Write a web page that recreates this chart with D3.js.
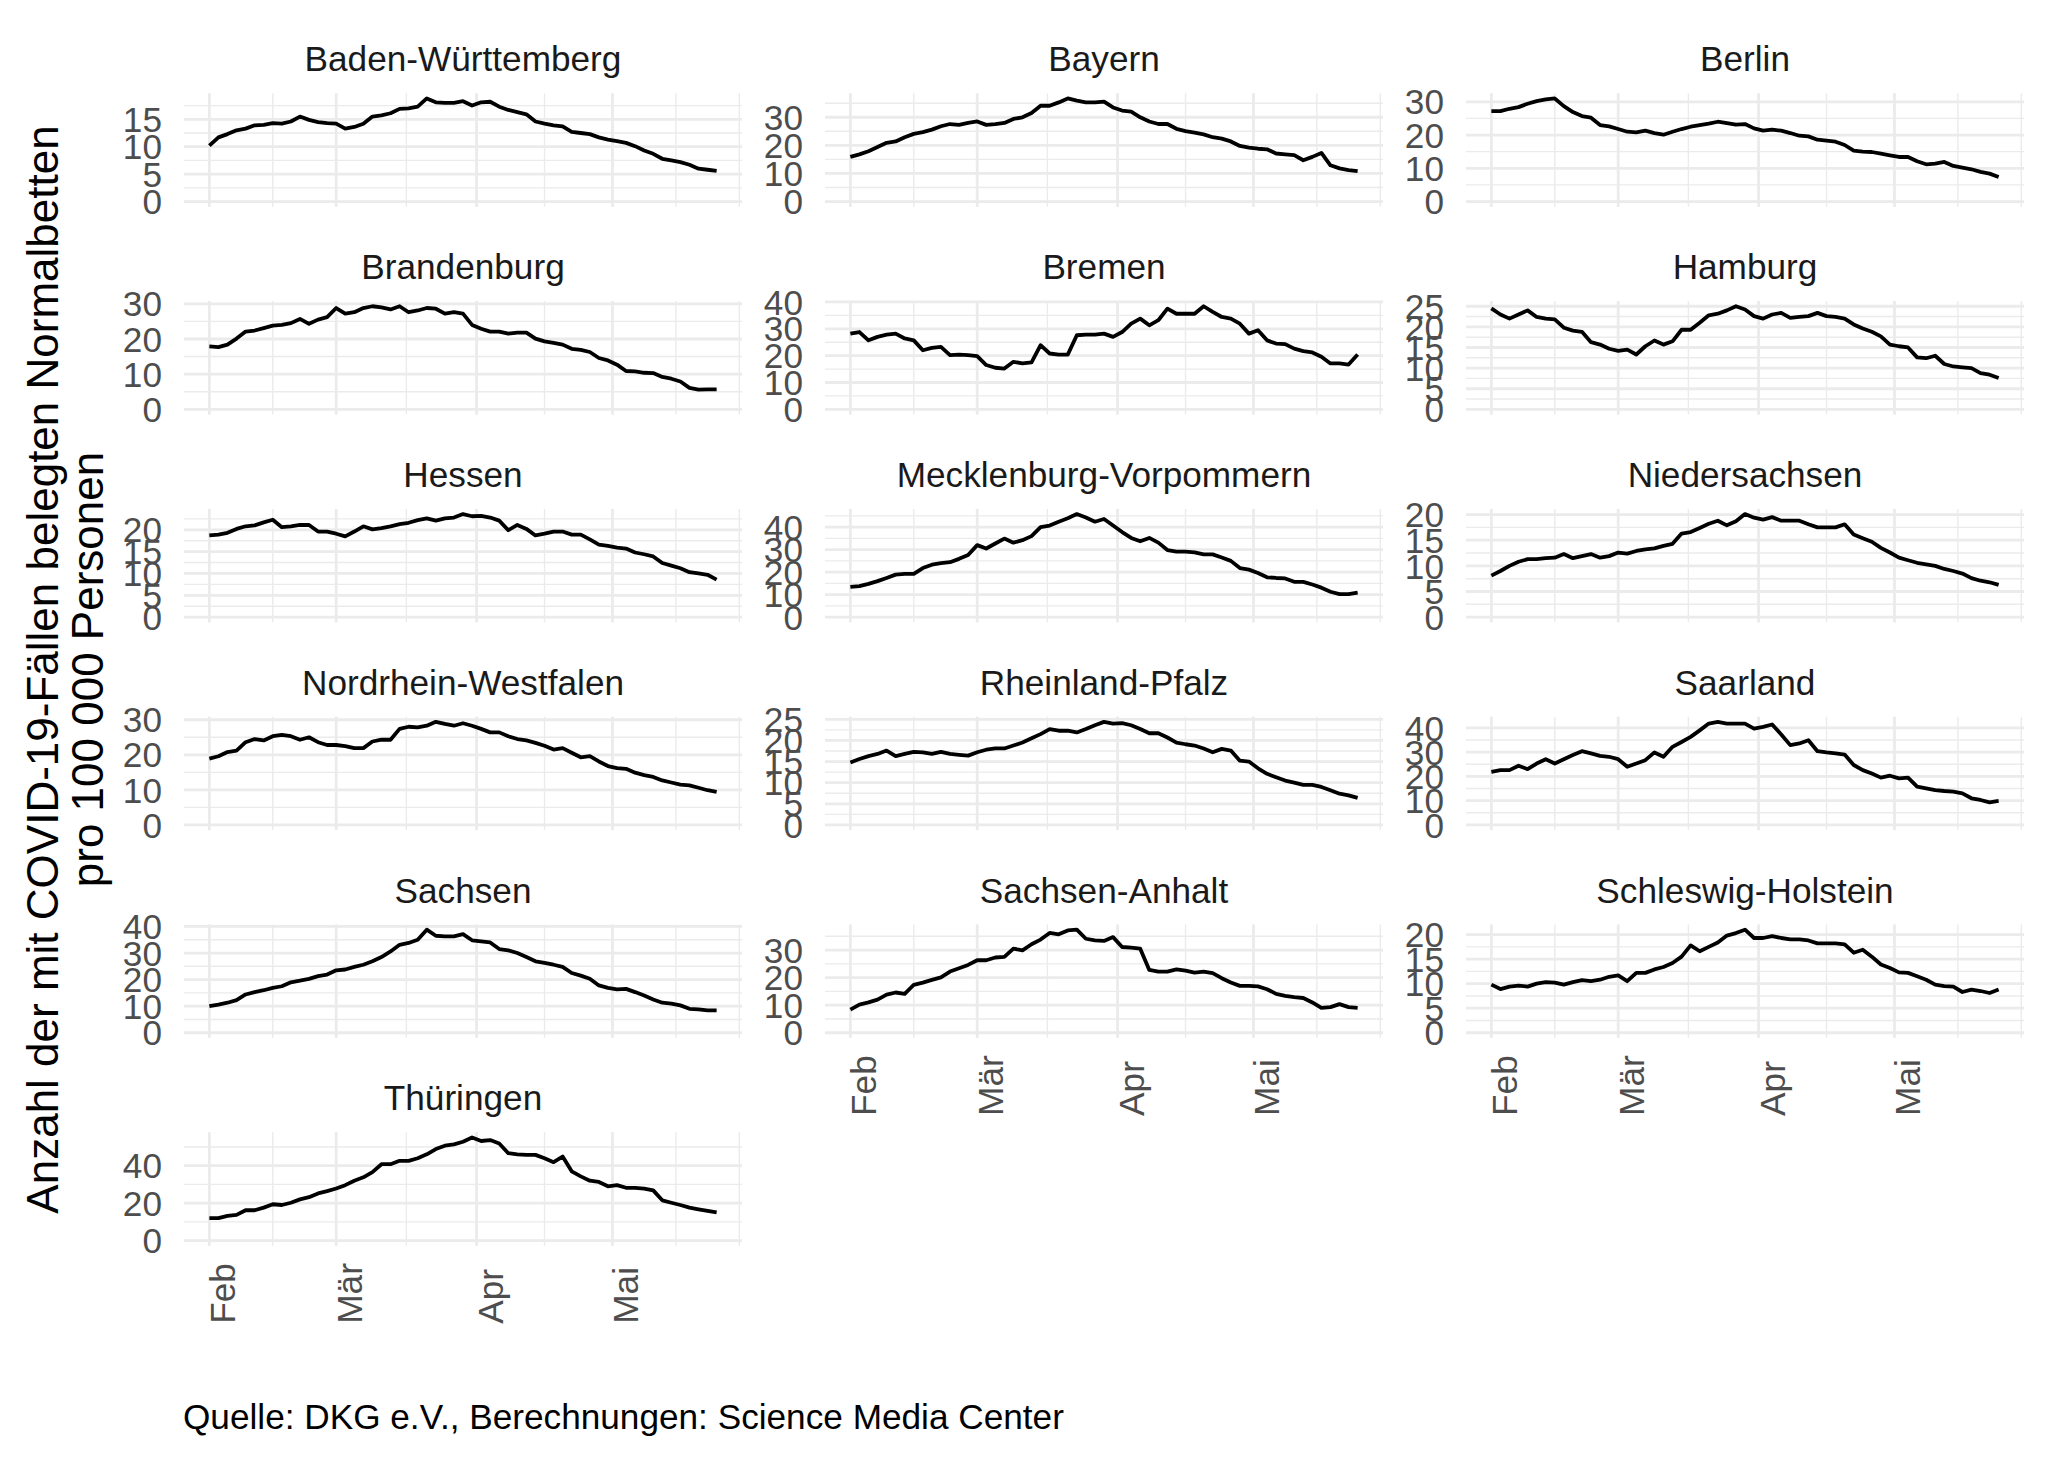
<!DOCTYPE html>
<html>
<head>
<meta charset="utf-8">
<script src="https://cdn.jsdelivr.net/npm/d3@7"></script>
<style>
  body { margin: 0; background: #fff; }
  text { font-family: "Liberation Sans", Arial, Helvetica, sans-serif; }
</style>
</head>
<body>
<div id="chart"></div>
<script>
// days after 1 Feb 2022, every second day up to 24 May
const dayOffsets = [0,2,4,6,8,10,12,14,16,18,20,22,24,26,28,30,32,34,36,38,40,42,44,46,48,50,52,54,56,
  58,60,62,64,66,68,70,72,74,76,78,80,82,84,86,88,90,92,94,96,98,100,102,104,106,108,110,112];

const monthStarts = ["2022-02-01", "2022-03-01", "2022-04-01", "2022-05-01"];
const monthLabels = ["Feb", "Mär", "Apr", "Mai"];

const stateNames = ["Baden-Württemberg", "Bayern", "Berlin", "Brandenburg", "Bremen", "Hamburg",
  "Hessen", "Mecklenburg-Vorpommern", "Niedersachsen", "Nordrhein-Westfalen", "Rheinland-Pfalz",
  "Saarland", "Sachsen", "Sachsen-Anhalt", "Schleswig-Holstein", "Thüringen"];

// beds per 100 000 people
const bw = [10.2,11.7,12.3,13.0,13.3,13.9,14.0,14.3,14.2,14.6,15.5,14.9,14.5,14.3,14.2,13.3,13.6,14.2,15.5,15.7,16.1,16.9,17.0,17.3,18.8,18.1,18.0,18.0,18.3,17.5,18.1,18.2,17.3,16.7,16.3,15.9,14.6,14.2,13.9,13.7,12.7,12.5,12.3,11.7,11.3,11.0,10.7,10.1,9.3,8.7,7.8,7.5,7.2,6.7,6.0,5.8,5.6];
const by = [15.9,16.8,17.9,19.4,20.9,21.4,22.9,24.1,24.7,25.6,26.8,27.6,27.3,28.0,28.5,27.3,27.6,28.0,29.4,30.0,31.5,34.1,34.1,35.3,36.7,35.9,35.3,35.3,35.6,33.5,32.4,32.0,30.0,28.5,27.6,27.6,25.9,25.1,24.5,23.9,22.9,22.4,21.4,19.8,19.2,18.8,18.6,17.1,16.8,16.5,14.7,15.9,17.3,12.9,11.8,11.2,10.8];
const be = [27.2,27.2,27.9,28.4,29.4,30.2,30.7,31.0,28.7,26.9,25.7,25.2,23.0,22.6,21.8,21.0,20.8,21.3,20.6,20.1,21.0,21.8,22.5,23.0,23.4,24.0,23.6,23.1,23.3,22.0,21.3,21.6,21.3,20.6,19.8,19.6,18.6,18.3,18.0,17.0,15.3,15.0,14.9,14.4,13.9,13.4,13.4,12.1,11.2,11.4,11.9,10.7,10.2,9.7,8.9,8.4,7.4];
const bb = [17.9,17.7,18.4,20.1,22.1,22.4,23.1,23.8,24.0,24.5,25.7,24.3,25.5,26.2,28.8,27.2,27.6,28.8,29.3,29.0,28.4,29.3,27.6,28.1,28.8,28.6,27.2,27.6,27.2,24.0,22.9,22.1,22.1,21.5,21.8,21.8,20.1,19.3,18.9,18.4,17.2,16.9,16.3,14.6,13.9,12.7,10.9,10.8,10.4,10.3,9.2,8.7,7.9,6.1,5.6,5.7,5.7];
const hb = [28.2,28.8,25.7,27.0,27.8,28.2,26.4,25.7,22.0,22.9,23.3,20.2,20.4,20.2,19.8,16.5,15.5,15.2,17.7,17.1,17.5,23.9,20.8,20.4,20.4,27.6,27.8,27.8,28.2,27.0,28.8,31.9,33.8,31.3,33.2,37.5,35.6,35.6,35.6,38.4,36.3,34.4,33.8,31.9,28.2,29.5,25.7,24.5,24.3,22.6,21.7,21.2,19.6,17.1,17.1,16.7,20.4];
const hh = [24.5,23.0,22.0,23.0,24.0,22.4,22.0,21.8,19.8,19.1,18.8,16.3,15.7,14.7,14.2,14.5,13.3,15.3,16.7,15.7,16.5,19.3,19.3,21.0,22.8,23.2,24.0,25.0,24.2,22.6,22.0,23.0,23.4,22.2,22.4,22.6,23.4,22.6,22.4,22.0,20.6,19.6,18.8,17.7,15.7,15.3,15.0,12.6,12.4,13.0,11.0,10.4,10.2,10.0,8.8,8.4,7.6];
const he = [18.7,18.9,19.3,20.2,20.8,21.0,21.7,22.3,20.6,20.8,21.1,21.1,19.6,19.6,19.1,18.5,19.6,20.8,20.1,20.4,20.8,21.3,21.6,22.2,22.6,22.1,22.6,22.8,23.6,23.1,23.2,22.8,22.1,19.9,21.1,20.2,18.7,19.1,19.6,19.6,18.9,18.9,17.8,16.6,16.3,15.9,15.7,14.8,14.4,13.9,12.4,11.8,11.2,10.3,10.0,9.7,8.6];
const mv = [13.4,13.8,14.8,16.0,17.4,18.9,19.2,19.2,21.8,23.3,24.0,24.4,25.9,27.6,32.0,30.5,32.7,34.9,33.1,34.2,36.0,40.0,40.7,42.4,43.9,45.8,44.3,42.4,43.6,40.7,37.8,35.2,33.7,35.2,33.1,29.8,29.1,29.1,28.8,27.9,27.9,26.5,25.0,21.8,21.1,19.6,17.7,17.4,17.2,15.7,15.7,14.5,13.1,11.3,10.2,10.2,10.9];
const ni = [8.1,9.0,10.0,10.8,11.3,11.3,11.5,11.6,12.3,11.5,11.9,12.3,11.6,11.9,12.6,12.4,12.9,13.2,13.4,13.9,14.3,16.3,16.6,17.4,18.2,18.8,17.9,18.7,20.1,19.4,19.0,19.5,18.8,18.8,18.8,18.1,17.5,17.5,17.5,18.1,16.1,15.4,14.7,13.5,12.6,11.6,11.1,10.6,10.3,10.0,9.4,9.0,8.5,7.6,7.1,6.8,6.3];
const nw = [18.9,19.6,20.8,21.2,23.6,24.5,24.1,25.3,25.7,25.3,24.3,25.0,23.6,22.8,22.8,22.5,21.9,21.9,23.8,24.3,24.3,27.4,28.0,27.8,28.3,29.4,28.8,28.3,29.0,28.3,27.4,26.4,26.4,25.3,24.5,24.1,23.4,22.6,21.5,21.9,20.6,19.3,19.6,18.1,16.8,16.2,16.0,14.9,14.2,13.7,12.7,12.1,11.5,11.3,10.6,9.9,9.4];
const rp = [14.8,15.6,16.3,16.8,17.6,16.3,16.8,17.3,17.2,16.8,17.3,16.8,16.6,16.4,17.2,17.8,18.1,18.1,18.8,19.5,20.5,21.5,22.7,22.3,22.3,21.9,22.7,23.6,24.4,24.0,24.1,23.6,22.7,21.7,21.7,20.7,19.5,19.1,18.8,18.1,17.2,18.0,17.6,15.2,15.0,13.4,12.1,11.3,10.5,10.0,9.5,9.5,9.0,8.2,7.4,7.0,6.4];
const sl = [21.9,22.6,22.6,24.4,23.0,25.3,27.1,25.3,27.1,28.8,30.4,29.5,28.5,28.1,27.1,24.0,25.3,26.7,29.9,28.1,32.2,34.2,36.3,39.0,41.8,42.5,41.8,41.8,41.8,39.7,40.4,41.4,37.3,32.9,33.6,34.9,30.4,29.9,29.5,29.0,24.7,22.6,21.2,19.5,20.3,19.2,19.5,15.8,15.1,14.4,14.0,13.7,13.0,11.0,10.3,9.3,9.9];
const sn = [10.0,10.6,11.3,12.3,14.4,15.3,16.0,16.9,17.5,19.0,19.6,20.3,21.3,21.9,23.5,23.8,24.8,25.6,26.9,28.5,30.6,33.1,33.8,35.0,38.8,36.5,36.3,36.3,37.1,34.8,34.4,34.0,31.5,31.0,30.0,28.5,26.9,26.3,25.6,24.8,22.5,21.5,20.3,17.8,16.9,16.3,16.5,15.3,14.0,12.5,11.3,11.0,10.3,9.0,8.8,8.4,8.4];
const st = [8.4,10.2,11.0,12.0,13.8,14.6,14.1,17.4,18.2,19.2,20.1,22.2,23.4,24.6,26.3,26.3,27.3,27.5,30.5,29.9,32.1,33.8,36.2,35.7,37.1,37.4,34.1,33.5,33.3,34.7,31.1,30.9,30.5,22.8,22.2,22.2,23.0,22.5,21.8,22.2,21.6,19.8,18.2,17.0,17.0,16.8,15.8,14.1,13.4,12.9,12.6,11.0,9.0,9.3,10.4,9.3,9.0];
const sh = [9.8,8.9,9.4,9.6,9.4,10.0,10.3,10.2,9.8,10.3,10.7,10.5,10.8,11.4,11.7,10.5,12.2,12.2,12.9,13.4,14.2,15.5,17.8,16.6,17.5,18.4,19.8,20.3,21.0,19.3,19.3,19.7,19.3,19.0,19.0,18.8,18.2,18.2,18.2,18.0,16.3,16.9,15.5,13.9,13.2,12.3,12.2,11.5,10.8,9.8,9.5,9.4,8.3,8.8,8.5,8.1,8.8];
const th = [12.0,12.0,13.2,13.7,16.2,16.2,17.6,19.4,19.0,20.2,22.0,23.2,25.2,26.4,27.8,29.6,32.0,33.8,36.6,40.8,40.8,42.6,42.6,44.0,46.1,48.9,50.7,51.4,52.8,55.1,53.2,53.7,51.9,46.7,46.1,45.8,45.8,44.0,41.9,44.9,37.0,34.3,32.0,31.3,29.0,29.6,28.2,28.2,27.8,26.8,21.5,20.2,19.0,17.6,16.7,15.8,15.0];

// y axis tick labels of each panel
const yBreaks5to15 = [0, 5, 10, 15];
const yBreaks5to20 = [0, 5, 10, 15, 20];
const yBreaks5to25 = [0, 5, 10, 15, 20, 25];
const yBreaks10to30 = [0, 10, 20, 30];
const yBreaks10to40 = [0, 10, 20, 30, 40];
const yBreaks20to40 = [0, 20, 40];

const seriesList = [bw, by, be, bb, hb, hh, he, mv, ni, nw, rp, sl, sn, st, sh, th];
const breakList = [yBreaks5to15, yBreaks10to30, yBreaks10to30, yBreaks10to30, yBreaks10to40, yBreaks5to25,
  yBreaks5to20, yBreaks10to40, yBreaks5to20, yBreaks10to30, yBreaks5to25, yBreaks10to40,
  yBreaks10to40, yBreaks10to30, yBreaks5to20, yBreaks20to40];

const titleY = ["Anzahl der mit COVID-19-Fällen belegten Normalbetten", "pro 100 000 Personen"];
const captionText = "Quelle: DKG e.V., Berechnungen: Science Media Center";

// ---- layout
const W = 2048, H = 1462;
const colLeft = [184, 825, 1466];
const panelW = 558, panelH = 113.4;
const rowTop0 = 93.3, rowPitch = 207.8;
const gridCol = "#EBEBEB";
const fs = 35.2;

const startDate = new Date(Date.UTC(2022, 1, 1));
const dates = dayOffsets.map(d => d3.utcDay.offset(startDate, d));
const monthDates = monthStarts.map(s => d3.utcParse("%Y-%m-%d")(s));

// ggplot-like minor breaks: majors extended by one step, plus midpoints
function minorBreaks(b, lo, hi) {
    let step = b[1] - b[0];
    let ext = b.slice();
    if (lo < b[0]) ext.unshift(b[0] - step);
    if (hi > b[b.length - 1]) ext.push(b[b.length - 1] + step);
    let out = ext.slice();
    for (let k = 1; k < ext.length; k++) out.push((ext[k - 1] + ext[k]) / 2);
    return out.filter(v => v >= lo && v <= hi);
}

const svg = d3.select("#chart").append("svg")
    .attr("width", W).attr("height", H)
    .style("background", "#fff");

const panels = stateNames.map((name, i) => ({
    name: name,
    values: seriesList[i].map((v, k) => ({ date: dates[k], v: v })),
    breaks: breakList[i]
}));

panels.forEach((p, i) => {
    let col = i % 3, row = Math.floor(i / 3);
    let left = colLeft[col], top = rowTop0 + row * rowPitch;
    let bottom = top + panelH;

    let t0 = dates[0].getTime(), t1 = dates[dates.length - 1].getTime();
    let tPad = (t1 - t0) * 0.05;
    let x = d3.scaleUtc().domain([new Date(t0 - tPad), new Date(t1 + tPad)]).range([left, left + panelW]);

    let maxV = d3.max(p.values, d => d.v);
    let yPad = maxV * 0.05;
    let y = d3.scaleLinear().domain([-yPad, maxV + yPad]).range([bottom, top]);

    let g = svg.append("g").attr("class", "panel");

    // vertical grid
    let xMaj = monthDates.map(d => d.getTime());
    let xMin = minorBreaks(xMaj, t0 - tPad, t1 + tPad);
    g.selectAll(".vminor").data(xMin).join("line")
        .attr("x1", d => x(new Date(d))).attr("x2", d => x(new Date(d)))
        .attr("y1", top).attr("y2", bottom)
        .attr("stroke", gridCol).attr("stroke-width", 1.4);
    // horizontal grid
    let yMin = minorBreaks(p.breaks, -yPad, maxV + yPad);
    g.selectAll(".hminor").data(yMin).join("line")
        .attr("x1", left).attr("x2", left + panelW)
        .attr("y1", d => y(d)).attr("y2", d => y(d))
        .attr("stroke", gridCol).attr("stroke-width", 1.4);
    g.selectAll(".vmajor").data(monthDates).join("line")
        .attr("x1", d => x(d)).attr("x2", d => x(d))
        .attr("y1", top).attr("y2", bottom)
        .attr("stroke", gridCol).attr("stroke-width", 2.8);
    g.selectAll(".hmajor").data(p.breaks).join("line")
        .attr("x1", left).attr("x2", left + panelW)
        .attr("y1", d => y(d)).attr("y2", d => y(d))
        .attr("stroke", gridCol).attr("stroke-width", 2.8);

    let lineGen = d3.line().x(d => x(d.date)).y(d => y(d.v));
    g.append("path").datum(p.values)
        .attr("d", lineGen)
        .attr("fill", "none")
        .attr("stroke", "#000")
        .attr("stroke-width", 3.8)
        .attr("stroke-linejoin", "round");

    // strip title
    g.append("text")
        .attr("x", left + panelW / 2).attr("y", top - 22)
        .attr("text-anchor", "middle")
        .attr("font-size", fs).attr("fill", "#1A1A1A")
        .text(p.name);

    // y tick labels
    g.selectAll(".ylab").data(p.breaks).join("text")
        .attr("x", left - 22).attr("y", d => y(d) + fs * 0.36)
        .attr("text-anchor", "end")
        .attr("font-size", fs).attr("fill", "#4D4D4D")
        .text(d => d);

    // x tick labels only on the lowest panel of each column
    if (i >= stateNames.length - 3) {
        g.selectAll(".xlab").data(monthDates).join("text")
            .attr("transform", (d, k) => "translate(" + (x(d) + 26) + "," + (bottom + 78) + ") rotate(-90)")
            .attr("text-anchor", "start")
            .attr("font-size", fs).attr("fill", "#4D4D4D")
            .text((d, k) => monthLabels[k]);
    }
});

// y axis title
let yMid = (rowTop0 + 5 * rowPitch + panelH + rowTop0) / 2;
svg.selectAll(".ytitle").data(titleY).join("text")
    .attr("transform", (d, k) => "translate(" + (58 + k * 45) + "," + yMid + ") rotate(-90)")
    .attr("text-anchor", "middle")
    .attr("font-size", 44).attr("fill", "#000")
    .text(d => d);

// caption
svg.append("text")
    .attr("x", 183).attr("y", 1429)
    .attr("font-size", fs).attr("fill", "#000")
    .text(captionText);
</script>
</body>
</html>
